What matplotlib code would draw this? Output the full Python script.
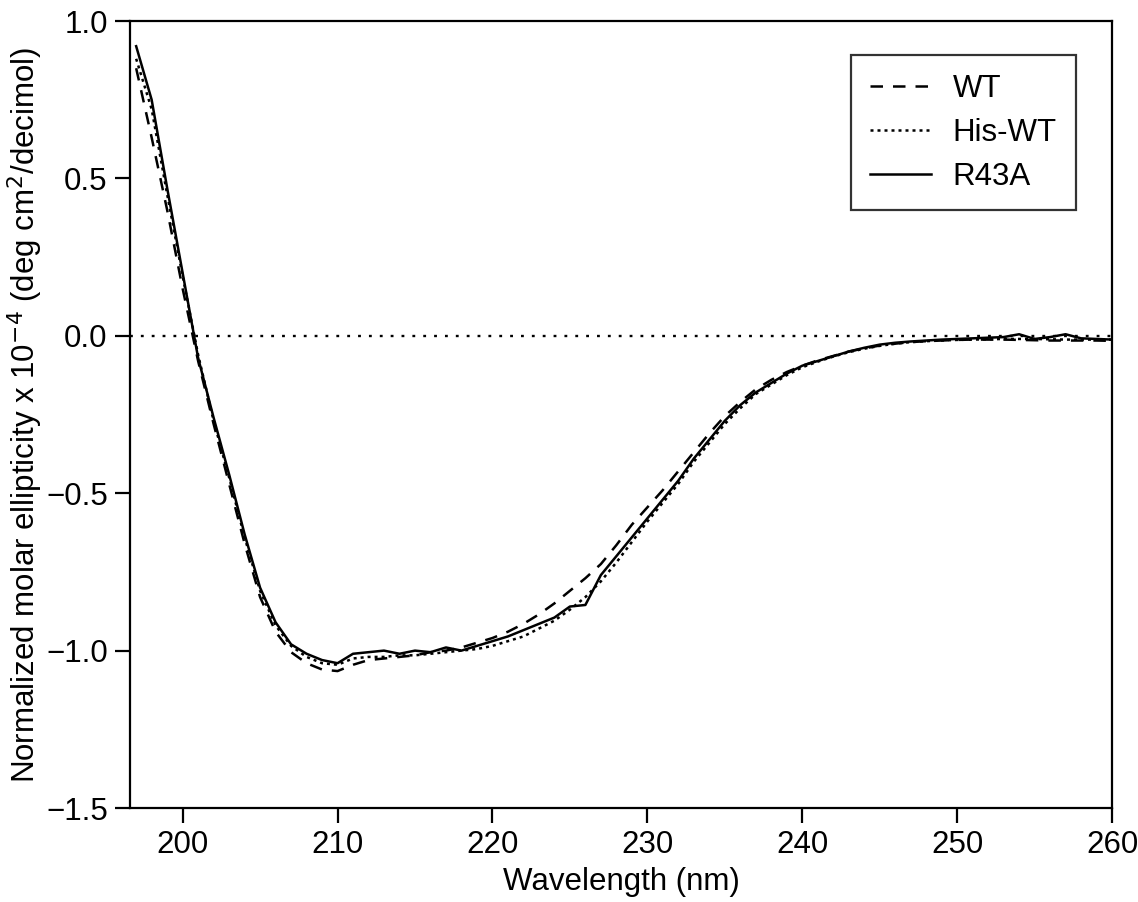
import numpy as np
import matplotlib
matplotlib.use("Agg")
import matplotlib.pyplot as plt

plt.rcParams['font.family'] = ['Liberation Sans', 'DejaVu Sans']

wavelength = np.arange(197, 261)

wt = [0.85, 0.63, 0.40, 0.15, -0.08, -0.28, -0.47, -0.66, -0.83, -0.94,
      -1.005, -1.04, -1.06, -1.065, -1.045, -1.03, -1.025, -1.02, -1.015, -1.005,
      -1.0, -0.99, -0.975, -0.96, -0.94, -0.915, -0.885, -0.85, -0.81, -0.77,
      -0.725, -0.665, -0.60, -0.545, -0.49, -0.43, -0.37, -0.31, -0.255, -0.21,
      -0.17, -0.14, -0.115, -0.095, -0.078, -0.064, -0.05, -0.04, -0.031, -0.025,
      -0.02, -0.017, -0.015, -0.013, -0.012, -0.012, -0.012, -0.013, -0.014, -0.015,
      -0.015, -0.015, -0.015, -0.016]

his_wt = [0.88, 0.72, 0.45, 0.19, -0.06, -0.27, -0.45, -0.64, -0.81, -0.92,
          -0.985, -1.02, -1.04, -1.045, -1.025, -1.02, -1.02, -1.015, -1.015, -1.01,
          -1.005, -1.0, -0.995, -0.985, -0.97, -0.955, -0.93, -0.905, -0.87, -0.83,
          -0.78, -0.72, -0.655, -0.59, -0.53, -0.47, -0.40, -0.34, -0.28, -0.23,
          -0.185, -0.155, -0.125, -0.1, -0.082, -0.066, -0.052, -0.041, -0.032, -0.025,
          -0.02, -0.017, -0.015, -0.013, -0.012, -0.011, -0.01, -0.01, -0.01, -0.011,
          -0.012, -0.012, -0.012, -0.012]

r43a = [0.92, 0.75, 0.47, 0.20, -0.07, -0.26, -0.44, -0.63, -0.80, -0.91,
        -0.98, -1.01, -1.03, -1.04, -1.01, -1.005, -1.0, -1.01, -1.0, -1.005,
        -0.99, -1.0, -0.985, -0.97, -0.955, -0.935, -0.915, -0.895, -0.86, -0.855,
        -0.76, -0.70, -0.64, -0.58, -0.52, -0.46, -0.39, -0.33, -0.27, -0.22,
        -0.18, -0.15, -0.12, -0.095, -0.08, -0.065, -0.05, -0.038, -0.028, -0.022,
        -0.018, -0.015, -0.012, -0.01, -0.008, -0.006, -0.004, 0.005, -0.01, -0.004,
        0.005, -0.008, -0.01, -0.012]

fs = 22.5

fig = plt.figure(figsize=(11.38, 9.02), dpi=100)
ax = fig.add_axes([0.1142, 0.1042, 0.863, 0.8725])

ax.axhline(0, color='black', lw=1.7, linestyle=(0, (1.2, 3.4)), zorder=1)
ax.plot(wavelength, wt, color='black', lw=1.8, linestyle=(0, (5, 4)), label='WT')
ax.plot(wavelength, his_wt, color='black', lw=1.8, linestyle=(0, (1.2, 1.6)), label='His-WT')
ax.plot(wavelength, r43a, color='black', lw=1.8, label='R43A')

ax.set_xlim(196.6, 260)
ax.set_ylim(-1.5, 1.0)
ax.set_xticks([200, 210, 220, 230, 240, 250, 260])
ax.set_yticks([-1.5, -1.0, -0.5, 0.0, 0.5, 1.0])
ax.yaxis.set_major_formatter(plt.FuncFormatter(lambda v, p: f"{v:.1f}".replace('-', '\u2212')))

for s in ax.spines.values():
    s.set_linewidth(1.6)
ax.tick_params(direction='out', length=11, width=1.6, labelsize=fs, pad=5)

ax.set_xlabel('Wavelength (nm)', fontsize=fs, labelpad=5)
ax.set_ylabel('Normalized molar ellipticity x 10$^{-4}$ (deg cm$^{2}$/decimol)',
              fontsize=fs, labelpad=1)

leg = ax.legend(loc='upper right', bbox_to_anchor=(0.963, 0.957), fontsize=fs,
                frameon=True, fancybox=False, handlelength=1.95, handletextpad=0.7,
                borderpad=0.6, labelspacing=0.45, borderaxespad=0)
leg.get_frame().set_edgecolor('black')
leg.get_frame().set_linewidth(1.6)

fig.savefig('out.png', dpi=100)
